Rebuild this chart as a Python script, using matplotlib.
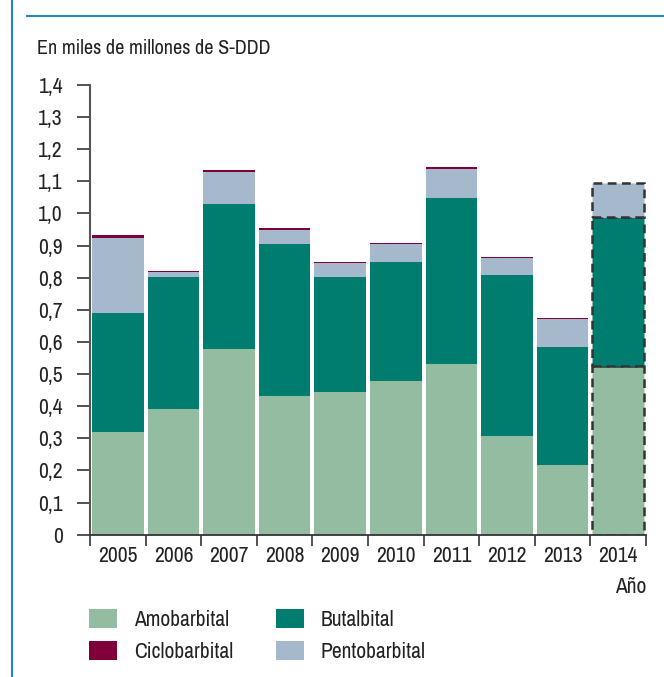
import matplotlib
matplotlib.use("Agg")
import matplotlib.pyplot as plt
from matplotlib.patches import Rectangle
from matplotlib.lines import Line2D
import numpy as np

plt.rcParams['font.family'] = ['Archivo Narrow', 'DejaVu Sans']

years = ['2005', '2006', '2007', '2008', '2009', '2010', '2011', '2012', '2013', '2014']
amobarbital = [0.320, 0.390, 0.578, 0.432, 0.444, 0.478, 0.531, 0.307, 0.217, 0.525]
butalbital = [0.369, 0.413, 0.453, 0.472, 0.357, 0.370, 0.516, 0.503, 0.367, 0.463]
pentobarbital = [0.236, 0.014, 0.099, 0.046, 0.044, 0.056, 0.093, 0.050, 0.087, 0.107]
ciclobarbital = [0.007, 0.003, 0.006, 0.004, 0.003, 0.003, 0.006, 0.003, 0.003, 0.0]
yticks = [0, 0.1, 0.2, 0.3, 0.4, 0.5, 0.6, 0.7, 0.8, 0.9, 1.0, 1.1, 1.2, 1.3, 1.4]
ytick_labels = ['0', '0,1', '0,2', '0,3', '0,4', '0,5', '0,6', '0,7', '0,8', '0,9',
                '1,0', '1,1', '1,2', '1,3', '1,4']

c_amo = '#93bca0'
c_but = '#007d6e'
c_cic = '#80003a'
c_pen = '#a6b9cc'
txt = '#222222'
blue = '#1f8ac0'

W, H = 664, 677
fig = plt.figure(figsize=(W / 100, H / 100), dpi=100)
ax = fig.add_axes([90 / W, 1 - 534.7 / H, (646 - 90) / W, (534.7 - 85) / H])

x = np.arange(len(years))
bw = 0.93
series = [(amobarbital, c_amo), (butalbital, c_but), (pentobarbital, c_pen), (ciclobarbital, c_cic)]
bottom = np.zeros(len(years))
for vals, col in series:
    v = np.array(vals)
    bars = ax.bar(x, v, bw, bottom=bottom, color=col, linewidth=0, zorder=2)
    # last year is an estimate: dashed outline
    b = bars[-1]
    if v[-1] > 0:
        b.set_edgecolor('#333333')
        b.set_linestyle((0, (3.5, 2.2)))
        b.set_linewidth(1.8)
    bottom = bottom + v

ax.set_xlim(-0.5, len(years) - 0.5)
ax.set_ylim(0, 1.4)
ax.set_yticks(yticks)
ax.set_yticklabels(ytick_labels)
ax.set_xticks(np.arange(len(years) + 1) - 0.5)
ax.set_xticklabels([])
ax.set_xticks(x, minor=True)
ax.set_xticklabels(years, minor=True)
ax.tick_params(axis='x', which='major', length=8, width=1.2, color='#333333', direction='out')
ax.tick_params(axis='x', which='minor', length=0, pad=8, labelsize=15.5, labelcolor=txt)
ax.tick_params(axis='y', length=9.5, width=1.2, color='#333333', direction='out', pad=10,
               labelsize=15.5, labelcolor=txt)

for s in ['top', 'right']:
    ax.spines[s].set_visible(False)
ax.spines['left'].set_color('#555555')
ax.spines['left'].set_linewidth(1.5)
ax.spines['bottom'].set_color('#333333')
ax.spines['bottom'].set_linewidth(1.3)
ax.spines['bottom'].set_zorder(3)

fig.text(37 / W, 1 - 48 / H, 'En miles de millones de S-DDD', fontsize=14.5, color=txt,
         ha='left', va='center')
fig.text(646 / W, 1 - 587 / H, 'Año', fontsize=15.5, color=txt, ha='right', va='center')

# frame lines
fig.add_artist(Line2D([12 / W, 12 / W], [0, 1], color=blue, linewidth=1.5))
fig.add_artist(Line2D([27 / W, 1], [1 - 16 / H, 1 - 16 / H], color=blue, linewidth=1.5))

# legend
legend_items = [('Amobarbital', c_amo, 89, 609), ('Butalbital', c_but, 276, 609),
                ('Ciclobarbital', c_cic, 89, 641), ('Pentobarbital', c_pen, 276, 641)]
for name, col, lx, ly in legend_items:
    fig.add_artist(Rectangle((lx / W, 1 - (ly + 19) / H), 28 / W, 19 / H,
                             facecolor=col, edgecolor='none', transform=fig.transFigure))
    fig.text((lx + 45) / W, 1 - (ly + 10.5) / H, name, fontsize=15.5, color=txt,
             ha='left', va='center')

fig.savefig('out.png', dpi=100)
